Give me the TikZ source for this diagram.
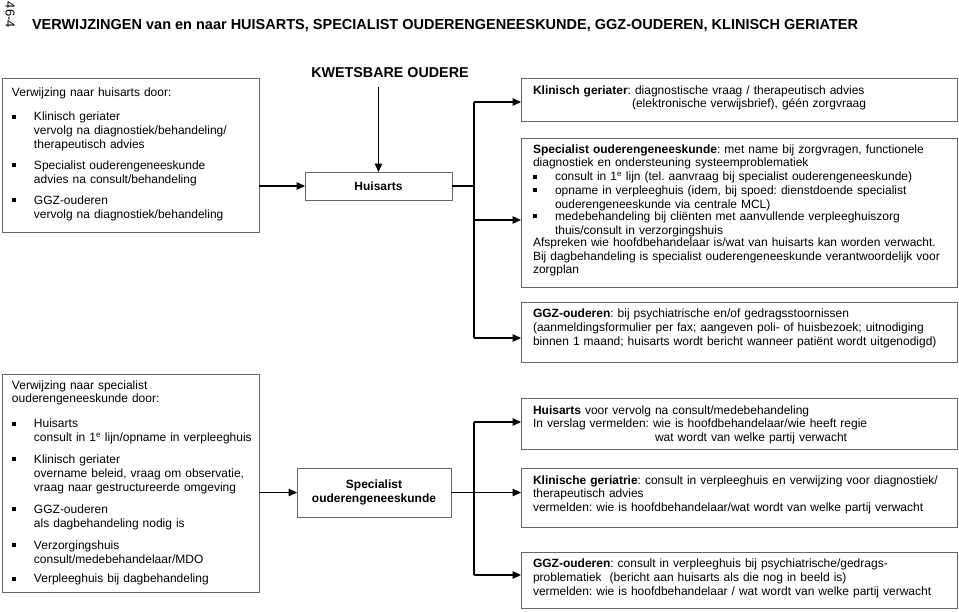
\documentclass[tikz,border=0pt]{standalone}
\usepackage{fontspec}
\setmainfont{Liberation Sans}
\usetikzlibrary{arrows.meta}
\frenchspacing
\newcommand{\fs}{\fontsize{12}{13.8}\selectfont}
\newcommand{\bsq}{\rule[2.1pt]{4pt}{4pt}}
\newcommand{\bitem}[1]{\par\noindent\makebox[22pt][l]{\bsq}\parbox[t]{\dimexpr\linewidth-22pt\relax}{#1}\par}
\newcommand{\gap}[1]{\par\vspace{#1}}
\begin{document}
\begin{tikzpicture}[x=1pt,y=-1pt,
  box/.style={draw=black!60, line width=1pt, rectangle, inner sep=0pt, outer sep=0pt},
  txt/.style={inner sep=0pt, outer sep=0pt, anchor=base west, align=left, font=\fs},
  ln/.style={draw=black, line width=1.2pt},
  arr/.style={draw=black, line width=1.2pt, -{Triangle[length=8.5pt,width=7.5pt]}}]
\useasboundingbox (0,0) rectangle (959,611);

% header
\node[rotate=-90, inner sep=0pt, font=\fontsize{13}{15}\selectfont] (pg) at (10,15) {46-4};
\node[txt, font=\bfseries\fontsize{14.5}{17}\selectfont] (title) at (32,29)
  {VERWIJZINGEN van en naar HUISARTS, SPECIALIST OUDERENGENEESKUNDE, GGZ-OUDEREN, KLINISCH GERIATER};

% ---------- top half ----------
\node[box, minimum width=257pt, minimum height=154pt] (TL) at (130.5,155) {};
\node[txt, text width=250pt] (TLt) at (12,96) {Verwijzing naar huisarts door:\gap{11pt}%
  \bitem{Klinisch geriater\\vervolg na diagnostiek/behandeling/\\therapeutisch advies}\gap{9pt}%
  \bitem{Specialist ouderengeneeskunde\\advies na consult/behandeling}\gap{9pt}%
  \bitem{GGZ-ouderen\\vervolg na diagnostiek/behandeling}};

\node[box, minimum width=147pt, minimum height=28pt, font=\fs\bfseries] (HA) at (378.5,186) {Huisarts};
\node[inner sep=0pt, font=\bfseries\fontsize{14.3}{17}\selectfont] (KO) at (390,73) {KWETSBARE OUDERE};
\coordinate (kotip) at ([yshift=-9pt]KO.south);
\draw[arr] (kotip -| HA.north) -- (HA.north);
\draw[arr] (TL.east |- HA.west) -- (HA.west);

\node[box, minimum width=436pt, minimum height=43pt] (KG) at (739,99.5) {};
\node[txt, text width=418pt] (KGt) at (533,94) {\textbf{Klinisch geriater}: diagnostische vraag / therapeutisch advies\\
  \hphantom{\textbf{Klinisch geriater}: }\hspace{-3pt}(elektronische verwijsbrief), géén zorgvraag};

\node[box, minimum width=436pt, minimum height=149pt] (SP) at (739,212.5) {};
\node[txt, text width=418pt] (SPt) at (533,153) {\textbf{Specialist ouderengeneeskunde}: met name bij zorgvragen, functionele\\
  diagnostiek en ondersteuning systeemproblematiek%
  \bitem{consult in 1\textsuperscript{e} lijn (tel. aanvraag bij specialist ouderengeneeskunde)}%
  \bitem{opname in verpleeghuis (idem, bij spoed: dienstdoende specialist\\ouderengeneeskunde via centrale MCL)}%
  \bitem{medebehandeling bij cliënten met aanvullende verpleeghuiszorg\\thuis/consult in verzorgingshuis}%
  Afspreken wie hoofdbehandelaar is/wat van huisarts kan worden verwacht.\\
  Bij dagbehandeling is specialist ouderengeneeskunde verantwoordelijk voor\\
  zorgplan};

\node[box, minimum width=436pt, minimum height=60pt] (GG) at (739,332) {};
\node[txt, text width=418pt] (GGt) at (533,317.5) {\textbf{GGZ-ouderen}: bij psychiatrische en/of gedragsstoornissen\\
  (aanmeldingsformulier per fax; aangeven poli- of huisbezoek; uitnodiging\\
  binnen 1 maand; huisarts wordt bericht wanneer patiënt wordt uitgenodigd)};

\coordinate (j1) at ([xshift=22pt]HA.east);
\coordinate (kgin) at ([yshift=-2.5pt]KG.west);
\coordinate (spin) at ([yshift=-7.5pt]SP.west);
\coordinate (ggin) at ([yshift=-6pt]GG.west);
\draw[ln] (HA.east) -- (j1);
\draw[ln] (j1 |- kgin) -- (j1 |- ggin);
\draw[arr] (j1 |- kgin) -- (kgin);
\draw[arr] (j1 |- spin) -- (spin);
\draw[arr] (j1 |- ggin) -- (ggin);

% ---------- bottom half ----------
\node[box, minimum width=257pt, minimum height=218pt] (BL) at (130.5,483) {};
\node[txt, text width=250pt] (BLt) at (12,389) {Verwijzing naar specialist\\ouderengeneeskunde door:\gap{11pt}%
  \bitem{Huisarts\\consult in 1\textsuperscript{e} lijn/opname in verpleeghuis}\gap{10pt}%
  \bitem{Klinisch geriater\\overname beleid, vraag om observatie,\\vraag naar gestructureerde omgeving}\gap{10pt}%
  \bitem{GGZ-ouderen\\als dagbehandeling nodig is}\gap{10pt}%
  \bitem{Verzorgingshuis\\consult/medebehandelaar/MDO}\gap{10pt}%
  \bitem{Verpleeghuis bij dagbehandeling}};

\node[box, minimum width=154pt, minimum height=49pt, font=\fs\bfseries, align=center] (SO) at (374,492.5) {Specialist\\ouderengeneeskunde};
\draw[arr] (BL.east |- SO.west) -- (SO.west);

\node[box, minimum width=436pt, minimum height=51pt] (HB) at (739,423.5) {};
\node[txt, text width=418pt] (HBt) at (533,414) {\textbf{Huisarts} voor vervolg na consult/medebehandeling\\
  In verslag vermelden: wie is hoofdbehandelaar/wie heeft regie\\
  \hspace*{122pt}wat wordt van welke partij verwacht};

\node[box, minimum width=436pt, minimum height=59pt] (KB) at (739,497.5) {};
\node[txt, text width=418pt] (KBt) at (533,484) {\textbf{Klinische geriatrie}: consult in verpleeghuis en verwijzing voor diagnostiek/\\
  therapeutisch advies\\
  vermelden: wie is hoofdbehandelaar/wat wordt van welke partij verwacht};

\node[box, minimum width=436pt, minimum height=56pt] (GB) at (739,580) {};
\node[txt, text width=418pt] (GBt) at (533,567.5) {\textbf{GGZ-ouderen}: consult in verpleeghuis bij psychiatrische/gedrags-\\
  problematiek\ \ (bericht aan huisarts als die nog in beeld is)\\
  vermelden: wie is hoofdbehandelaar / wat wordt van welke partij verwacht};

\coordinate (j2) at ([xshift=23pt]SO.east);
\coordinate (hbin) at ([yshift=1.5pt]HB.west);
\coordinate (gbin) at ([yshift=5pt]GB.west);
\draw[arr] (SO.east) -- (SO.east -| KB.west);
\draw[ln] (j2 |- hbin) -- (j2 |- gbin);
\draw[arr] (j2 |- hbin) -- (hbin);
\draw[arr] (j2 |- gbin) -- (gbin);
\end{tikzpicture}
\end{document}
